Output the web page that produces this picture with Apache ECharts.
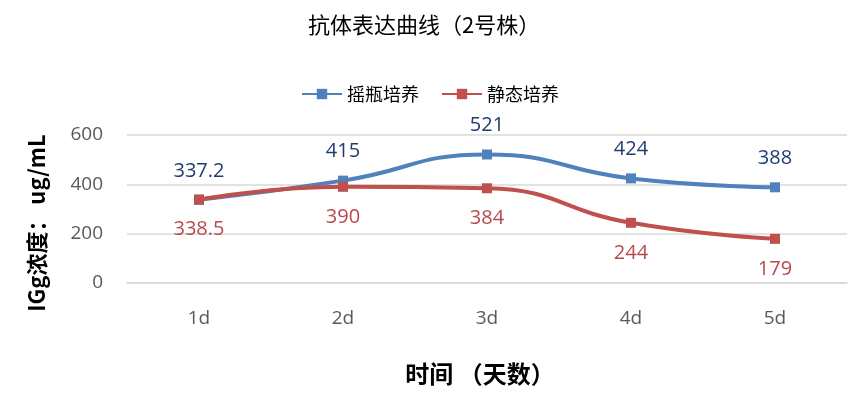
<!DOCTYPE html>
<html><head><meta charset="utf-8">
<script src="https://cdn.jsdelivr.net/npm/echarts@6/dist/echarts.min.js"></script>
<style>html,body{margin:0;padding:0;background:#fff}#c{width:865px;height:396px}</style>
</head><body><div id="c"></div>
<script>
const categories = ['1d','2d','3d','4d','5d'];
const shakeFlask = [337.2, 415, 521, 424, 388];
const staticCulture = [338.5, 390, 384, 244, 179];
const yTicks = [0, 200, 400, 600];

const chart = echarts.init(document.getElementById('c'));
const cjk = '"Noto Sans CJK SC", "Noto Sans", sans-serif';
const lat = '"Open Sans", "Noto Sans", sans-serif';
chart.setOption({
  animation: false,
  title: {
    text: '抗体表达曲线（2号株）',
    left: 303, top: 9,
    textStyle: {fontFamily: cjk, fontSize: 22, fontWeight: 'normal', color: '#000'}
  },
  legend: {
    top: 80, left: 296,
    itemWidth: 40, itemHeight: 13, itemGap: 22,
    textStyle: {fontFamily: cjk, fontSize: 18, color: '#000', padding: [0,0,0,0]},
    data: ['摇瓶培养', '静态培养']
  },
  grid: {left: 127, right: 18, top: 135, bottom: 113},
  xAxis: {
    type: 'category', data: categories,
    boundaryGap: true,
    axisLine: {show: true, lineStyle: {color: '#D9D9D9', width: 1.5}},
    axisTick: {show: false},
    axisLabel: {fontFamily: lat, fontSize: 19, color: '#595959', margin: 26}
  },
  yAxis: {
    type: 'value', min: yTicks[0], max: yTicks[yTicks.length-1], interval: 200,
    axisLine: {show: false}, axisTick: {show: false},
    splitLine: {lineStyle: {color: '#D9D9D9', width: 1.5}},
    axisLabel: {fontFamily: lat, fontSize: 19, color: '#595959', margin: 24}
  },
  graphic: [
    {type: 'text', x: 37, y: 223, rotation: Math.PI/2,
     style: {text: 'IGg浓度： ug/mL', font: 'bold 22px ' + cjk, fill: '#000', textAlign: 'center', textVerticalAlign: 'middle'}},
    {type: 'text', x: 480, y: 374,
     style: {text: '时间 （天数）', font: 'bold 24px ' + cjk, fill: '#000', textAlign: 'center', textVerticalAlign: 'middle'}}
  ],
  series: [
    {
      name: '摇瓶培养', type: 'line', data: shakeFlask, smooth: 0.5,
      symbol: 'rect', symbolSize: 10,
      itemStyle: {color: '#4F81BD'},
      lineStyle: {color: '#4F81BD', width: 4},
      label: {show: true, position: 'top', distance: 14, fontFamily: lat, fontSize: 20, color: '#1F3D6E'},
      z: 3
    },
    {
      name: '静态培养', type: 'line', data: staticCulture, smooth: 0.5,
      symbol: 'rect', symbolSize: 10,
      itemStyle: {color: '#C0504D'},
      lineStyle: {color: '#C0504D', width: 4},
      label: {show: true, position: 'bottom', distance: 15, fontFamily: lat, fontSize: 20, color: '#B9494A'},
      z: 4
    }
  ]
});
</script></body></html>
